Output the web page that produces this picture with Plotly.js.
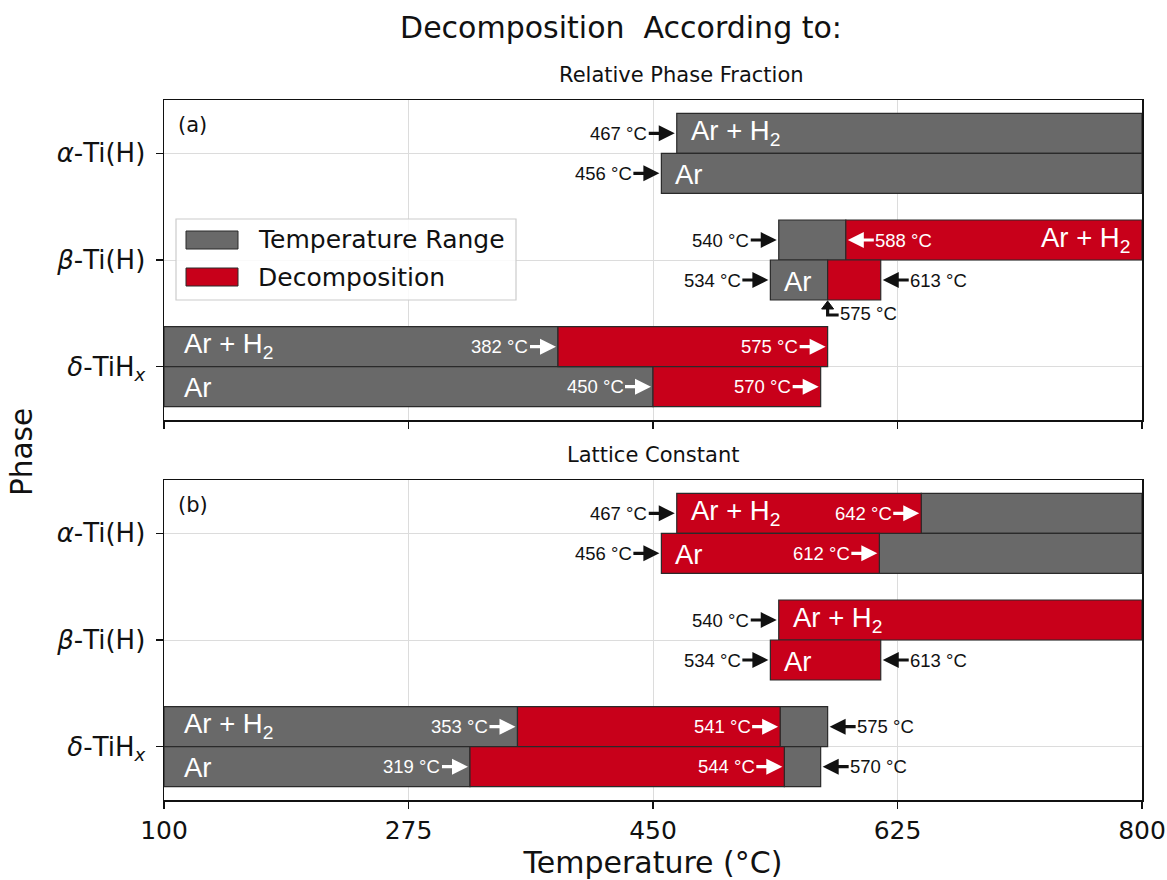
<!DOCTYPE html>
<html>
<head>
<meta charset="utf-8">
<script src="https://cdn.plot.ly/plotly-3.0.1.min.js"></script>
<style>html,body{margin:0;padding:0;background:#fff;}#chart{width:1167px;height:880px;}</style>
</head>
<body>
<div id="chart"></div>
<script>
// ---------- DATA ----------
const phaseKeys = ['delta', 'beta', 'alpha'];
const phaseLabels = ['<i>δ</i>-TiH<sub><i>x</i></sub>', '<i>β</i>-Ti(H)', '<i>α</i>-Ti(H)'];
const atmKeys = ['ArH2', 'Ar'];
const atmLabels = ['Ar + H<sub>2</sub>', 'Ar'];
const xTicks = [100, 275, 450, 625, 800];
const seriesNames = ['Temperature Range', 'Decomposition'];

// Panel (a): Relative Phase Fraction
const aPhase = ['alpha', 'alpha', 'beta', 'beta', 'beta', 'beta', 'delta', 'delta', 'delta', 'delta'];
const aAtm   = ['ArH2', 'Ar', 'ArH2', 'ArH2', 'Ar', 'Ar', 'ArH2', 'ArH2', 'Ar', 'Ar'];
const aStart = [467, 456, 540, 588, 534, 575, 100, 382, 100, 450];
const aEnd   = [800, 800, 588, 800, 575, 613, 382, 575, 450, 570];
const aKind  = ['range', 'range', 'range', 'decomp', 'range', 'decomp', 'range', 'decomp', 'range', 'decomp'];

// Panel (b): Lattice Constant
const bPhase = ['alpha', 'alpha', 'alpha', 'alpha', 'beta', 'beta', 'delta', 'delta', 'delta', 'delta', 'delta', 'delta'];
const bAtm   = ['ArH2', 'ArH2', 'Ar', 'Ar', 'ArH2', 'Ar', 'ArH2', 'ArH2', 'ArH2', 'Ar', 'Ar', 'Ar'];
const bStart = [467, 642, 456, 612, 540, 534, 100, 353, 541, 100, 319, 544];
const bEnd   = [642, 800, 612, 800, 800, 613, 353, 541, 575, 319, 544, 570];
const bKind  = ['decomp', 'range', 'decomp', 'range', 'decomp', 'decomp', 'range', 'decomp', 'range', 'range', 'decomp', 'range'];

// Temperature markers (arrow comes from: left / right / below)
const aMarkT     = [467, 456, 540, 588, 534, 613, 575, 382, 575, 450, 570];
const aMarkPhase = ['alpha', 'alpha', 'beta', 'beta', 'beta', 'beta', 'beta', 'delta', 'delta', 'delta', 'delta'];
const aMarkAtm   = ['ArH2', 'Ar', 'ArH2', 'ArH2', 'Ar', 'Ar', 'Ar', 'ArH2', 'ArH2', 'Ar', 'Ar'];
const aMarkFrom  = ['left', 'left', 'left', 'right', 'left', 'right', 'below', 'left', 'left', 'left', 'left'];

const bMarkT     = [467, 642, 456, 612, 540, 534, 613, 353, 541, 575, 319, 544, 570];
const bMarkPhase = ['alpha', 'alpha', 'alpha', 'alpha', 'beta', 'beta', 'beta', 'delta', 'delta', 'delta', 'delta', 'delta', 'delta'];
const bMarkAtm   = ['ArH2', 'ArH2', 'Ar', 'Ar', 'ArH2', 'Ar', 'Ar', 'ArH2', 'ArH2', 'ArH2', 'Ar', 'Ar', 'Ar'];
const bMarkFrom  = ['left', 'left', 'left', 'left', 'left', 'left', 'right', 'left', 'left', 'right', 'left', 'left', 'right'];

// Atmosphere labels inside bars (placed at row start or row end)
const aLabPhase = ['alpha', 'alpha', 'beta', 'beta', 'delta', 'delta'];
const aLabAtm   = ['ArH2', 'Ar', 'ArH2', 'Ar', 'ArH2', 'Ar'];
const aLabAt    = ['start', 'start', 'end', 'start', 'start', 'start'];
const bLabPhase = ['alpha', 'alpha', 'beta', 'beta', 'delta', 'delta'];
const bLabAtm   = ['ArH2', 'Ar', 'ArH2', 'Ar', 'ArH2', 'Ar'];
const bLabAt    = ['start', 'start', 'start', 'start', 'start', 'start'];

// ---------- STYLE ----------
const GRAY = '#696969', RED = '#c8001a', EDGE = '#2a2a2a';
const BAR_W = 0.375, OFF = 0.1875;
const DV = 'DejaVu Sans, sans-serif';
const AR = 'Liberation Sans, Arial, sans-serif';
const MARK_SIZE = 18.5;
const L = 164, R = 1142, T = 100, B = 800;
const px2x = p => (p - L) / (R - L);
const py2y = p => (B - p) / (B - T);

function rowY(phase, atm) {
  return phaseKeys.indexOf(phase) + (atm === 'ArH2' ? OFF : -OFF);
}

const traces = [];
function addBars(phase, atm, start, end, kind, xa, ya) {
  ['range', 'decomp'].forEach(k => {
    const ys = [], xs = [], bs = [];
    kind.forEach((kk, i) => {
      if (kk !== k) return;
      ys.push(rowY(phase[i], atm[i]));
      xs.push(end[i] - start[i]);
      bs.push(start[i]);
    });
    traces.push({
      type: 'bar', orientation: 'h', y: ys, x: xs, base: bs,
      width: ys.map(() => BAR_W),
      name: k === 'range' ? seriesNames[0] : seriesNames[1],
      marker: { color: k === 'range' ? GRAY : RED, line: { color: EDGE, width: 1.2 } },
      xaxis: xa, yaxis: ya, showlegend: false, hoverinfo: 'skip'
    });
  });
}
addBars(aPhase, aAtm, aStart, aEnd, aKind, 'x', 'y');
addBars(bPhase, bAtm, bStart, bEnd, bKind, 'x2', 'y2');

const annotations = [];
const shapes = [];
function addMarks(T_, phase, atm, from, segPhase, segAtm, segStart, segEnd, xr, yr) {
  T_.forEach((t, i) => {
    const y = rowY(phase[i], atm[i]);
    // label sits on a bar if a segment of the same row ends (left) / starts (right) at t
    let onBar = false;
    segStart.forEach((s, j) => {
      if (segPhase[j] !== phase[i] || segAtm[j] !== atm[i]) return;
      if (from[i] === 'left' && segEnd[j] === t && segStart[j] < t) onBar = true;
      if (from[i] === 'right' && s === t) onBar = true;
    });
    const col = onBar ? '#ffffff' : '#111111';
    const txt = t + ' °C';
    if (from[i] === 'below') {
      const yb = y - BAR_W / 2;
      // L-shaped up-arrow drawn in pixel offsets anchored at the bar's lower edge
      shapes.push({ type: 'path', xref: xr, yref: yr, xsizemode: 'pixel', ysizemode: 'pixel',
        xanchor: t, yanchor: yb, path: 'M0,-7 L0,-15 L11,-15',
        line: { color: col, width: 3.2 }, layer: 'above' });
      shapes.push({ type: 'path', xref: xr, yref: yr, xsizemode: 'pixel', ysizemode: 'pixel',
        xanchor: t, yanchor: yb, path: 'M-6,-9 L6,-9 L0,-1 Z',
        fillcolor: col, line: { color: col, width: 1 }, layer: 'above' });
      annotations.push({ x: t, y: yb, xref: xr, yref: yr, text: txt, showarrow: false,
        xanchor: 'left', yanchor: 'middle', xshift: 10, yshift: -13,
        font: { family: AR, size: MARK_SIZE, color: col } });
      return;
    }
    annotations.push({ x: t, y: y, xref: xr, yref: yr, text: txt, showarrow: true,
      ax: from[i] === 'left' ? -58 : 58, ay: 0,
      arrowhead: 2, arrowsize: 1, arrowwidth: 3.2, arrowcolor: col, standoff: 2,
      font: { family: AR, size: MARK_SIZE, color: col } });
  });
}
addMarks(aMarkT, aMarkPhase, aMarkAtm, aMarkFrom, aPhase, aAtm, aStart, aEnd, 'x', 'y');
addMarks(bMarkT, bMarkPhase, bMarkAtm, bMarkFrom, bPhase, bAtm, bStart, bEnd, 'x2', 'y2');

function addLabels(phase, atm, at, segPhase, segAtm, segStart, segEnd, xr, yr) {
  phase.forEach((p, i) => {
    const s = [], e = [];
    segPhase.forEach((sp, j) => {
      if (sp === p && segAtm[j] === atm[i]) { s.push(segStart[j]); e.push(segEnd[j]); }
    });
    const isStart = at[i] === 'start';
    const x0 = isStart ? Math.min(...s) : Math.max(...e);
    annotations.push({
      x: x0, y: rowY(p, atm[i]), xref: xr, yref: yr,
      text: atmLabels[atmKeys.indexOf(atm[i])], showarrow: false,
      xanchor: isStart ? 'left' : 'right', yanchor: 'middle',
      xshift: isStart ? (x0 <= xTicks[0] ? 18 : 12) : -10, yshift: atm[i] === 'ArH2' ? 1 : -1,
      font: { family: AR, size: 27.5, color: '#ffffff' }
    });
  });
}
addLabels(aLabPhase, aLabAtm, aLabAt, aPhase, aAtm, aStart, aEnd, 'x', 'y');
addLabels(bLabPhase, bLabAtm, bLabAt, bPhase, bAtm, bStart, bEnd, 'x2', 'y2');

// panel letters and subplot titles
annotations.push({ xref: 'paper', yref: 'paper', x: px2x(176), y: py2y(125), text: '(a)', showarrow: false,
  xanchor: 'left', yanchor: 'middle', font: { family: DV, size: 21, color: '#111' } });
annotations.push({ xref: 'paper', yref: 'paper', x: px2x(176), y: py2y(505), text: '(b)', showarrow: false,
  xanchor: 'left', yanchor: 'middle', font: { family: DV, size: 21, color: '#111' } });
annotations.push({ xref: 'paper', yref: 'paper', x: px2x(681), y: py2y(75), text: 'Relative Phase Fraction', showarrow: false,
  xanchor: 'center', yanchor: 'middle', font: { family: DV, size: 21, color: '#111' } });
annotations.push({ xref: 'paper', yref: 'paper', x: px2x(653), y: py2y(455), text: 'Lattice Constant', showarrow: false,
  xanchor: 'center', yanchor: 'middle', font: { family: DV, size: 21, color: '#111' } });
annotations.push({ xref: 'paper', yref: 'paper', x: px2x(22), y: py2y(452), text: 'Phase', showarrow: false,
  textangle: -90, xanchor: 'center', yanchor: 'middle', font: { family: DV, size: 29.5, color: '#111' } });

// manual legend
shapes.push({ type: 'rect', xref: 'paper', yref: 'paper', x0: px2x(176), x1: px2x(516), y0: py2y(300), y1: py2y(219),
  fillcolor: 'rgba(255,255,255,0.85)', line: { color: '#cccccc', width: 1.2 }, layer: 'above' });
shapes.push({ type: 'rect', xref: 'paper', yref: 'paper', x0: px2x(186), x1: px2x(238), y0: py2y(249), y1: py2y(231),
  fillcolor: GRAY, line: { color: EDGE, width: 1 }, layer: 'above' });
shapes.push({ type: 'rect', xref: 'paper', yref: 'paper', x0: px2x(186), x1: px2x(238), y0: py2y(286), y1: py2y(268),
  fillcolor: RED, line: { color: EDGE, width: 1 }, layer: 'above' });
annotations.push({ xref: 'paper', yref: 'paper', x: px2x(256), y: py2y(240), text: seriesNames[0], showarrow: false,
  xanchor: 'left', yanchor: 'middle', font: { family: DV, size: 25, color: '#111' } });
annotations.push({ xref: 'paper', yref: 'paper', x: px2x(256), y: py2y(277), text: seriesNames[1], showarrow: false,
  xanchor: 'left', yanchor: 'middle', font: { family: DV, size: 25, color: '#111' } });

const axisCommon = {
  range: [100, 800], tickvals: xTicks, ticktext: xTicks.map(String),
  showgrid: true, gridcolor: '#dcdcdc', gridwidth: 1,
  showline: true, mirror: true, linecolor: '#111', linewidth: 1.5,
  ticks: 'outside', ticklen: 7, tickwidth: 1.5, tickcolor: '#111',
  zeroline: false, fixedrange: true,
  tickfont: { family: DV, size: 25, color: '#111' }
};
const yCommon = {
  range: [-0.5, 2.5], tickvals: [0, 1, 2], ticktext: phaseLabels,
  showgrid: true, gridcolor: '#dcdcdc', gridwidth: 1,
  showline: true, mirror: true, linecolor: '#111', linewidth: 1.5,
  ticks: 'outside', ticklen: 7, tickwidth: 1.5, tickcolor: '#111',
  ticklabelstandoff: 5,
  zeroline: false, fixedrange: true,
  tickfont: { family: DV, size: 26, color: '#111' }
};
const dom = 320 / 700;
const layout = {
  width: 1167, height: 880,
  margin: { l: L, r: 1167 - R, t: T, b: 880 - B },
  paper_bgcolor: '#fff', plot_bgcolor: '#fff',
  barmode: 'overlay', showlegend: false,
  title: { text: 'Decomposition\u00a0 According to:', x: 621 / 1167, xanchor: 'center', y: 1 - 27 / 880, yanchor: 'middle',
    font: { family: DV, size: 30, color: '#111' } },
  xaxis: Object.assign({}, axisCommon, { anchor: 'y', domain: [0, 1], showticklabels: false }),
  xaxis2: Object.assign({}, axisCommon, { anchor: 'y2', domain: [0, 1], showticklabels: true,
    title: { text: 'Temperature (°C)', font: { family: DV, size: 30, color: '#111' }, standoff: 4 } }),
  yaxis: Object.assign({}, yCommon, { anchor: 'x', domain: [1 - dom, 1] }),
  yaxis2: Object.assign({}, yCommon, { anchor: 'x2', domain: [0, dom] }),
  annotations: annotations, shapes: shapes
};
Plotly.newPlot('chart', traces, layout, { displayModeBar: false, staticPlot: true });
</script>
</body>
</html>
